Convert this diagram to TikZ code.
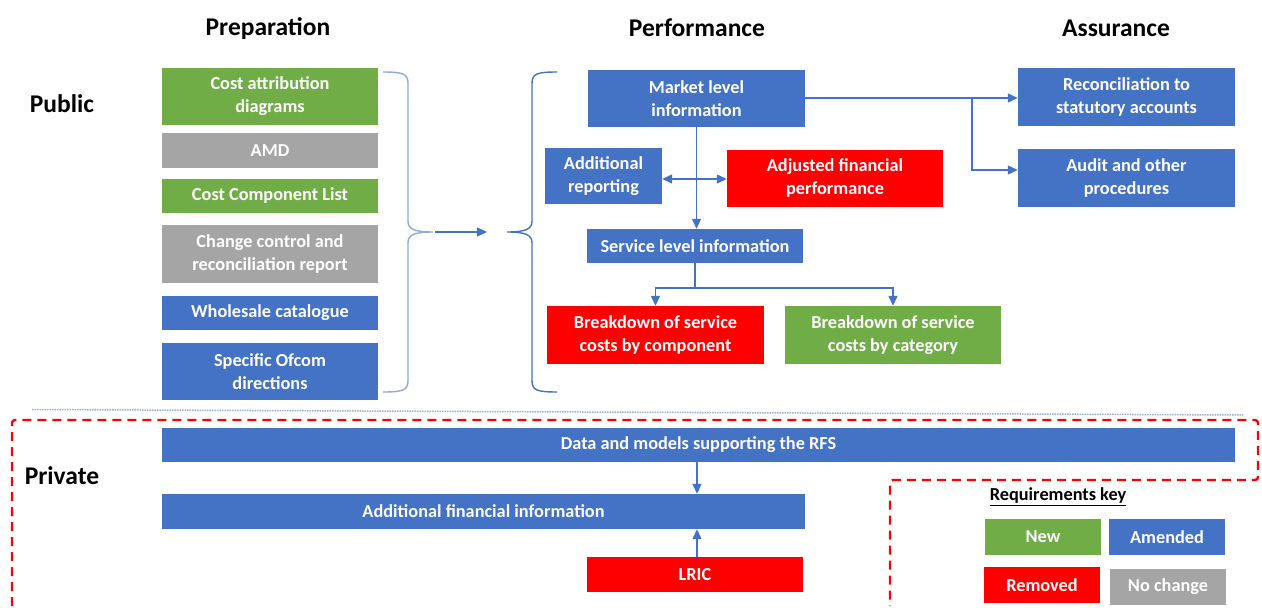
\documentclass[tikz,border=0pt]{standalone}
\usepackage{fontspec}
\setmainfont{Carlito}
\usetikzlibrary{arrows.meta}

\definecolor{amendblue}{HTML}{4472C4}
\definecolor{newgreen}{HTML}{70AD47}
\definecolor{samegray}{HTML}{A5A5A5}
\definecolor{removedred}{HTML}{FF0000}
\definecolor{bracecol}{HTML}{8FAADC}
\definecolor{dotcol}{HTML}{9BAED6}

\tikzset{
  req/.style={inner sep=0pt, text=white, align=center,
    font=\bfseries\fontsize{18.3}{23}\selectfont},
  newreq/.style={req, fill=newgreen},
  amended/.style={req, fill=amendblue},
  removed/.style={req, fill=removedred},
  nochange/.style={req, fill=samegray},
  link/.style={draw=amendblue, line width=1.3pt, -{Triangle[length=10pt,width=9pt]}},
  heading/.style={font=\bfseries\fontsize{25.5}{30}\selectfont},
}

\begin{document}
\begin{tikzpicture}[x=1pt, y=-1pt]
      \useasboundingbox (0,0) rectangle (1262,608);

      % headings
      \node[heading] (prep) at (268,29) {Preparation};
      \node[heading] (perf) at (697,28) {Performance};
      \node[heading] (assu) at (1116,28) {Assurance};
      \node[heading] (pub) at (62,104) {Public};
      \node[heading] (priv) at (62,476) {Private};

      % preparation column
      \node[newreq, minimum width=216pt, minimum height=57pt] (cad) at (270,96.5) {Cost attribution\\diagrams};
      \node[nochange, minimum width=216pt, minimum height=35pt] (amd) at (270,150.5) {AMD};
      \node[newreq, minimum width=216pt, minimum height=34pt] (ccl) at (270,196) {Cost Component List};
      \node[nochange, minimum width=216pt, minimum height=58pt] (ccr) at (270,254) {Change control and\\reconciliation report};
      \node[amended, minimum width=216pt, minimum height=34pt] (wsc) at (270,313) {Wholesale catalogue};
      \node[amended, minimum width=216pt, minimum height=57pt] (sod) at (270,371.5) {Specific Ofcom\\directions};

      % performance column
      \node[amended, minimum width=217pt, minimum height=57pt] (mli) at (696.5,98.5) {Market level\\information};
      \node[amended, minimum width=117pt, minimum height=56pt] (adr) at (603.5,176) {Additional\\reporting};
      \node[removed, minimum width=216pt, minimum height=57pt] (afp) at (835,178.5) {Adjusted financial\\performance};
      \node[amended, minimum width=216pt, minimum height=34pt] (sli) at (695,246) {Service level information};
      \node[removed, minimum width=217pt, minimum height=58pt] (bcomp) at (655.5,335) {Breakdown of service\\costs by component};
      \node[newreq, minimum width=216pt, minimum height=58pt] (bcat) at (893,335) {Breakdown of service\\costs by category};

      % assurance column
      \node[amended, minimum width=217pt, minimum height=58pt] (rsa) at (1126.5,97) {Reconciliation to\\statutory accounts};
      \node[amended, minimum width=217pt, minimum height=58pt] (aop) at (1126.5,178) {Audit and other\\procedures};

      % private part
      \node[amended, minimum width=1073pt, minimum height=34pt] (dms) at (698.5,445) {Data and models supporting the RFS};
      \node[amended, minimum width=643pt, minimum height=35pt] (afi) at (483.5,511.5) {Additional financial information};
      \node[removed, minimum width=216pt, minimum height=35pt] (lric) at (695,574.5) {LRIC};

      % key
      \node[font=\bfseries\fontsize{18.3}{22}\selectfont] (keyt) at (1058,497) {\underline{Requirements key}};
      \node[newreq, minimum width=116pt, minimum height=36pt] (knew) at (1043,537) {New};
      \node[amended, minimum width=116pt, minimum height=36pt] (kamd) at (1167,537) {Amended};
      \node[removed, minimum width=116pt, minimum height=36pt] (krem) at (1042,585) {Removed};
      \node[nochange, minimum width=116pt, minimum height=36pt] (kno) at (1168,586.5) {No change};

      % braces
      \coordinate (lbr) at (433,232);
      \coordinate (rbr) at (507,232);
      \draw[bracecol, line width=1.4pt] (383,72) .. controls (404,72) and (408,74) .. (408,84)
        -- (408,221) .. controls (408,229) and (414,232) .. (lbr)
        .. controls (414,232) and (408,235) .. (408,243)
        -- (408,380) .. controls (408,390) and (404,392) .. (383,392);
      \draw[amendblue, line width=1.4pt] (557,72) .. controls (536,72) and (532,74) .. (532,84)
        -- (532,221) .. controls (532,229) and (526,232) .. (rbr)
        .. controls (526,232) and (532,235) .. (532,243)
        -- (532,380) .. controls (532,390) and (536,392) .. (557,392);
      \draw[link] (lbr) -- (rbr) [shorten <=2pt, shorten >=20pt];

      % connectors
      \coordinate (split) at (695,288);
      \coordinate (brk) at (972,98);
      \draw[link] (mli.south) -- (mli.south |- sli.north);
      \draw[link, {Triangle[length=10pt,width=9pt]}-{Triangle[length=10pt,width=9pt]}] (adr.east |- 0,179) -- (afp.west |- 0,179);
      \draw[amendblue, line width=1.3pt] (sli.south) -- (split);
      \draw[link] (split) -| (bcomp.north);
      \draw[link] (split) -| (bcat.north);
      \draw[link] (mli.east |- brk) -- (rsa.west |- brk);
      \draw[link] (brk) |- ([yshift=8pt]aop.west);
      \draw[link] (dms.south -| 697,0) -- (afi.north -| 697,0);
      \draw[link] (lric.north -| 697,0) -- (afi.south -| 697,0);

      % public / private split
      \draw[dotcol, line width=1.5pt, densely dotted] (32,409.5) -- (1243,415);
      \draw[removedred, line width=2.4pt, dash pattern=on 9pt off 6pt, rounded corners=3pt]
        (12,606) -- (12,420) -- (1258,420) -- (1258,480) -- (890,480) -- (890,606);
\end{tikzpicture}
\end{document}
